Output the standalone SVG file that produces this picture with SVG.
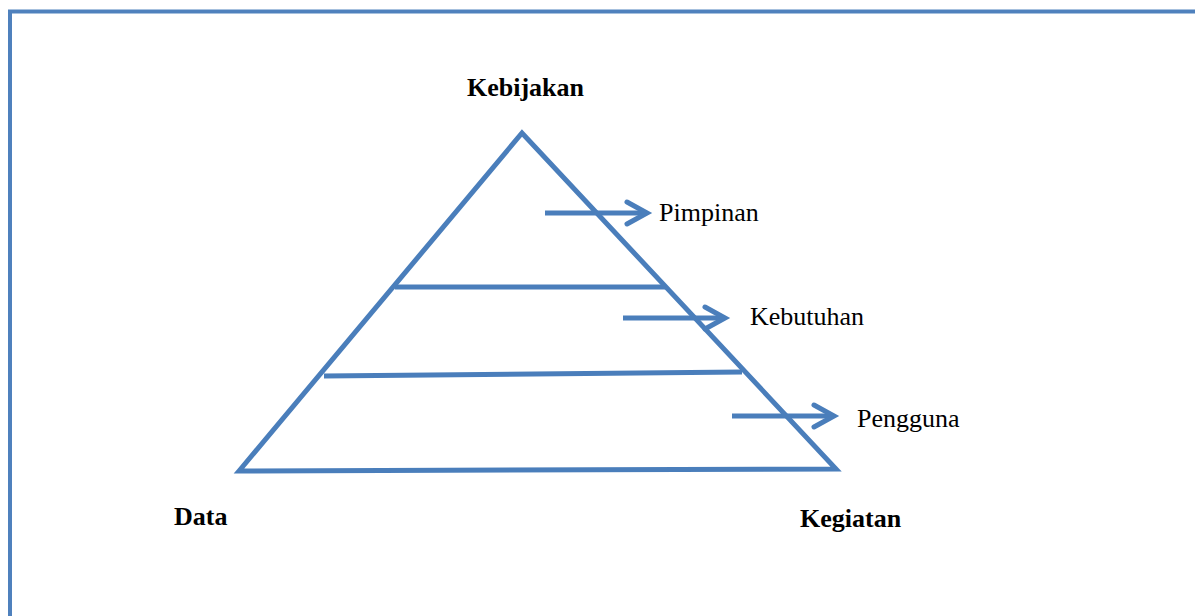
<svg xmlns="http://www.w3.org/2000/svg" width="1195" height="616" viewBox="0 0 1195 616">
<style>
.ln{stroke:#4A7EBB;stroke-width:5;fill:none;stroke-linecap:butt;stroke-linejoin:miter}
.ar{stroke:#4A7EBB;stroke-width:5;fill:none;stroke-linecap:round;stroke-linejoin:miter}
.b{font-family:"Liberation Serif",serif;font-size:26px;font-weight:bold;fill:#000}
.r{font-family:"Liberation Serif",serif;font-size:26px;fill:#000}
</style>
<rect x="0" y="0" width="1195" height="616" fill="#fff"/>
<rect id="frame" x="10" y="11.5" width="1200" height="620" fill="none" stroke="#4F81BD" stroke-width="4"/>
<g id="pyramid">
<path class="ln" d="M239,471 L522,133 L836,469 Z"/>
<line class="ln" x1="395" y1="287" x2="665" y2="287"/>
<line class="ln" x1="324" y1="376" x2="742" y2="372"/>
</g>
<g id="connectors">
<line class="ln" x1="545" y1="213" x2="646" y2="213"/>
<path class="ar" d="M627,202 L647,213 L627,224"/>
<line class="ln" x1="623" y1="318" x2="724" y2="318"/>
<path class="ar" d="M705,307 L725,318 L705,329"/>
<line class="ln" x1="732" y1="416" x2="833" y2="416"/>
<path class="ar" d="M814,405 L834,416 L814,427"/>
</g>
<g id="kebijakan"><text class="b" x="467" y="96">Kebijakan</text></g>
<g id="pimpinan"><text class="r" x="659" y="221">Pimpinan</text></g>
<g id="kebutuhan"><text class="r" x="750" y="325">Kebutuhan</text></g>
<g id="pengguna"><text class="r" x="857" y="427">Pengguna</text></g>
<g id="data"><text class="b" x="174" y="525">Data</text></g>
<g id="kegiatan"><text class="b" x="800" y="527">Kegiatan</text></g>
</svg>
